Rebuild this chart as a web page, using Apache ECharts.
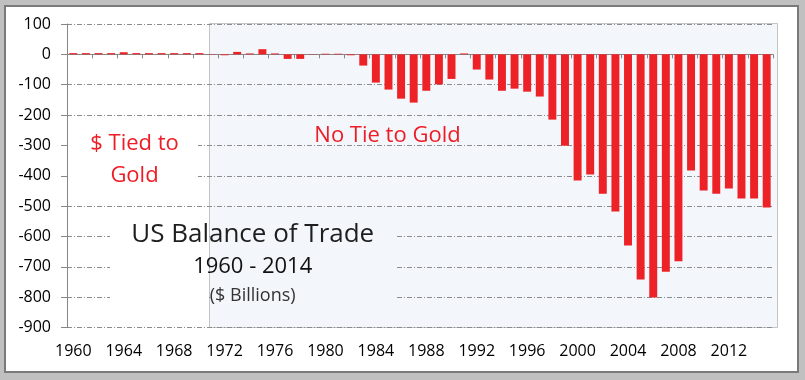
<!DOCTYPE html>
<html>
<head>
<meta charset="utf-8">
<script src="https://cdn.jsdelivr.net/npm/echarts@6/dist/echarts.min.js"></script>
<style>html,body{margin:0;padding:0;background:#fff;}#c{width:805px;height:380px;}</style>
</head>
<body>
<div id="c"></div>
<script>
var years = ['1960','1961','1962','1963','1964','1965','1966','1967','1968','1969',
  '1970','1971','1972','1973','1974','1975','1976','1977','1978','1979',
  '1980','1981','1982','1983','1984','1985','1986','1987','1988','1989',
  '1990','1991','1992','1993','1994','1995','1996','1997','1998','1999',
  '2000','2001','2002','2003','2004','2005','2006','2007','2008','2009',
  '2010','2011','2012','2013','2014','2015'];
var balance = [4, 4, 4, 4, 7, 4, 4, 4, 4, 4,
  4, -1, -3, 8, 3, 17, 3, -15, -15, -1,
  2, 2, -3, -37, -93, -116, -146, -159, -120, -99,
  -81, 3, -50, -83, -120, -113, -123, -139, -215, -301,
  -416, -396, -459, -518, -630, -742, -801, -716, -682, -383,
  -449, -459, -442, -475, -475, -505];
var yMin = -900, yMax = 100, yStep = 100;

var chart = echarts.init(document.getElementById('c'), null, {renderer: 'canvas'});
var axisGray = '#868686';
var lblFont = {fontFamily: 'Open Sans', fontSize: 16, color: '#000'};
function txt(t, x, y, size, color) {
  return {type: 'text', x: x, y: y, z: 10,
    style: {text: t, fill: color, font: size + 'px "Open Sans"',
      textAlign: 'center', textVerticalAlign: 'middle', align: 'center', verticalAlign: 'middle'}};
}
chart.setOption({
  backgroundColor: 'transparent',
  animation: false,
  grid: {left: 67, right: 32, top: 24, bottom: 52.5},
  xAxis: [{
    type: 'category', data: years, position: 'bottom',
    axisLine: {show: false, onZero: false},
    axisTick: {show: false},
    axisLabel: Object.assign({interval: 3, margin: 16}, lblFont),
    splitLine: {show: false}
  }, {
    type: 'category', data: years, position: 'bottom',
    axisLine: {show: true, onZero: true, lineStyle: {color: axisGray, width: 1}},
    axisTick: {show: true, interval: 1, length: 4, lineStyle: {color: axisGray}},
    axisLabel: {show: false},
    splitLine: {show: false}
  }],
  yAxis: {
    type: 'value', min: yMin, max: yMax, interval: yStep,
    axisLine: {show: true, lineStyle: {color: axisGray, width: 1}},
    axisTick: {show: true, length: 6, lineStyle: {color: axisGray}},
    axisLabel: Object.assign({margin: 16}, lblFont),
    splitLine: {show: true, lineStyle: {color: '#8c8c8c', width: 1, type: [5, 2, 1, 2]}}
  },
  series: [{
    type: 'bar', data: balance, xAxisIndex: 0, yAxisIndex: 0,
    barWidth: '63%', itemStyle: {color: '#ec2227'}
  }],
  graphic: [
    {type: 'rect', z: -10, shape: {x: 0, y: 0, width: 805, height: 380}, style: {fill: '#c0c0c0'}},
    {type: 'rect', z: -9, shape: {x: 5, y: 6, width: 793, height: 366}, style: {fill: '#ffffff', stroke: '#7a7a7a', lineWidth: 2}},
    {type: 'rect', z: -5, shape: {x: 209.5, y: 23.5, width: 568, height: 304}, style: {fill: '#f3f6fa', stroke: '#c4c4c4', lineWidth: 1}},
    {type: 'rect', z: 1, shape: {x: 68, y: 124, width: 130, height: 70}, style: {fill: '#ffffff'}},
    {type: 'rect', z: 1, shape: {x: 110, y: 214, width: 99, height: 104}, style: {fill: '#ffffff'}},
    {type: 'rect', z: 1, shape: {x: 210, y: 214, width: 187, height: 104}, style: {fill: '#f3f6fa'}},
    txt('$ Tied to', 134.5, 144, 22, '#ee1c25'),
    txt('Gold', 134.5, 176, 22, '#ee1c25'),
    txt('No Tie to Gold', 387.5, 136, 22, '#ee1c25'),
    txt('US Balance of Trade', 252.7, 235, 26, '#1e1e1e'),
    txt('1960 - 2014', 252.7, 267, 22, '#111111'),
    txt('($ Billions)', 252.7, 296, 18, '#333333')
  ]
});
</script>
</body>
</html>
